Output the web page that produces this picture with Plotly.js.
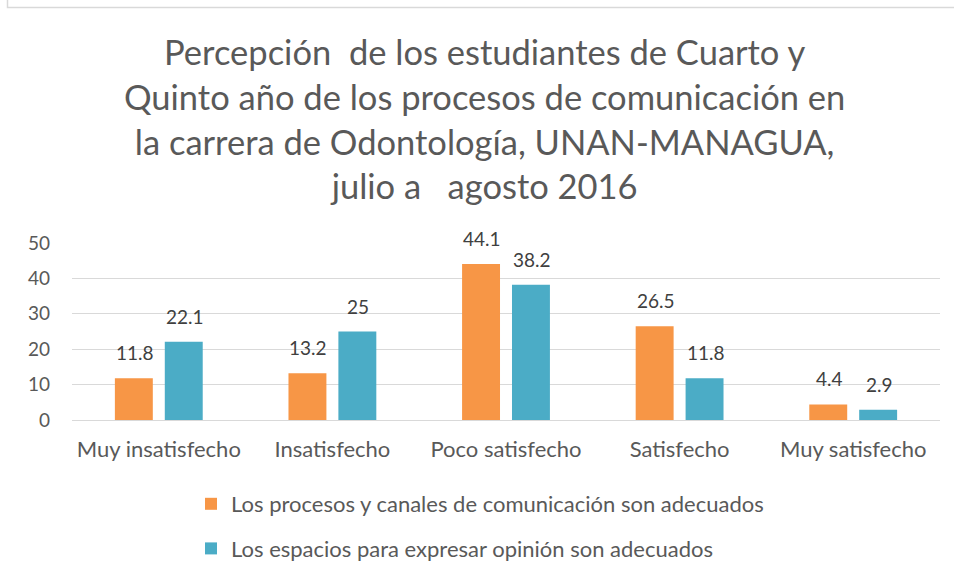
<!DOCTYPE html>
<html><head><meta charset="utf-8">
<script src="https://cdn.plot.ly/plotly-3.0.1.min.js"></script>
<style>html,body{margin:0;padding:0;background:#fff}#chart{width:954px;height:579px}</style>
</head><body><div id="chart"></div>
<script>
var categories = ["Muy insatisfecho", "Insatisfecho", "Poco satisfecho", "Satisfecho", "Muy satisfecho"];
var seriesNames = ["Los procesos y canales de comunicación son adecuados", "Los espacios para expresar opinión son adecuados"];
var procesos = [11.8, 13.2, 44.1, 26.5, 4.4];
var espacios = [22.1, 25, 38.2, 11.8, 2.9];
var yTicks = [0, 10, 20, 30, 40, 50];
var titleLines = ["Percepción\u00a0 de los estudiantes de Cuarto y", "Quinto año de los procesos de comunicación en", "la carrera de Odontología, UNAN-MANAGUA,", "julio a \u00a0 agosto 2016"];

var W = 954, H = 579, L = 72, R = 14, T = 243, B = 159;
var pw = W - L - R, ph = H - T - B;
function px(x){return (x - L)/pw;}
function py(y){return (H - B - y)/ph;}

var font = "Lato, 'Open Sans', sans-serif";
var colors = ['#F79646', '#4BACC6'];
var series = [procesos, espacios];
var traces = series.map(function(vals, i){
  return {type:'bar', x:categories, y:vals, name:seriesNames[i], legendgroup:'g'+i,
    marker:{color:colors[i]}, hoverinfo:'none'};
});
var annotations = [];
series.forEach(function(vals, i){
  vals.forEach(function(v, j){
    annotations.push({x:categories[j], y:v, xref:'x', yref:'y', text:String(v), showarrow:false,
      xanchor:'center', yanchor:'bottom', xshift:(i === 0 ? -24 : 26), yshift:12,
      font:{size:19, color:'#404040', family:font}});
  });
});
var layout = {
  width:W, height:H, margin:{l:L, r:R, t:T, b:B, autoexpand:false},
  paper_bgcolor:'#fff', plot_bgcolor:'#fff',
  font:{family:font, color:'#595959', size:19},
  title:{text:titleLines.join('<br>'), font:{size:34.5, color:'#595959', family:font},
         x:0.508, xanchor:'center', y:0.888, yanchor:'top', automargin:false},
  barmode:'group', bargap:0.425, bargroupgap:0.24,
  xaxis:{type:'category', showgrid:false, zeroline:false, showline:false, ticks:'', automargin:false,
         tickfont:{size:22, color:'#595959'}, ticklabelstandoff:14},
  yaxis:{range:[0,50], tickvals:yTicks, ticktext:yTicks.map(String), showgrid:true, gridcolor:'#d9d9d9',
         gridwidth:1, zeroline:true, zerolinecolor:'#d9d9d9', zerolinewidth:1, showline:false, automargin:false,
         tickfont:{size:19, color:'#595959'}, ticks:'', ticklabelstandoff:21},
  showlegend:true,
  legend:{orientation:'v', x:px(191), xanchor:'left', y:py(483), yanchor:'top',
          traceorder:'grouped', tracegroupgap:13, font:{size:22, color:'#595959'},
          bgcolor:'rgba(0,0,0,0)'},
  annotations:annotations,
  shapes:[{type:'rect', xref:'paper', yref:'paper', x0:px(7.5), x1:px(1000), y0:py(-50), y1:py(7.5),
           line:{color:'#d9d9d9', width:1.5}, fillcolor:'rgba(0,0,0,0)', layer:'below'}]
};
Plotly.newPlot('chart', traces, layout, {staticPlot:true});
</script></body></html>
